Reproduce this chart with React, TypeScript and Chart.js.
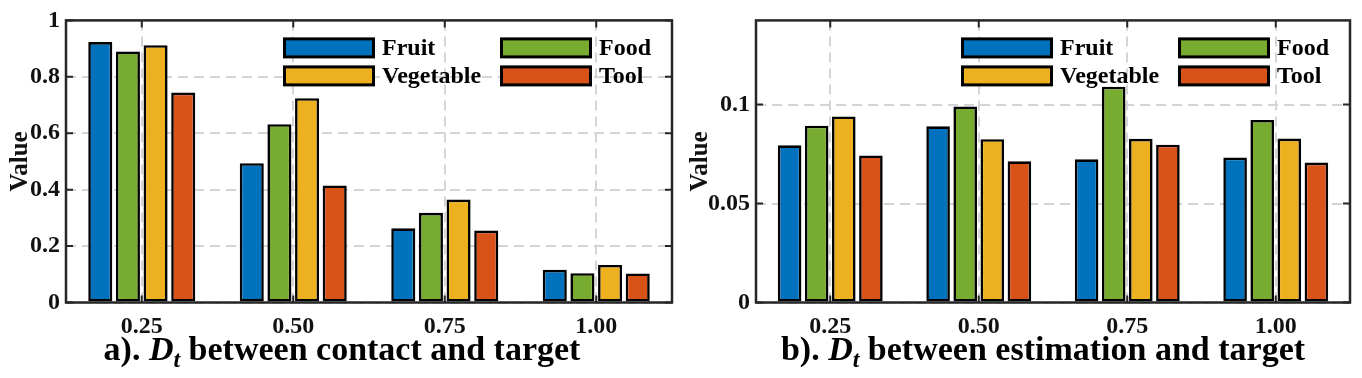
import React, { useEffect, useRef } from "react";
import { Chart, registerables } from "chart.js";

Chart.register(...registerables);

const categories = ["0.25", "0.50", "0.75", "1.00"];
const seriesNames = ["Fruit", "Food", "Vegetable", "Tool"];
const seriesColors = ["#0072BD", "#77AC30", "#EDB120", "#D95319"];

// a) D_t between contact and target
const fruitA = [0.923, 0.494, 0.263, 0.116];
const foodA = [0.89, 0.632, 0.318, 0.104];
const vegetableA = [0.912, 0.724, 0.365, 0.133];
const toolA = [0.744, 0.415, 0.255, 0.103];
const yTicksA = [0, 0.2, 0.4, 0.6, 0.8, 1];
const yMaxA = 1;

// b) D_t between estimation and target
const fruitB = [0.0794, 0.089, 0.0723, 0.0732];
const foodB = [0.0893, 0.099, 0.109, 0.0922];
const vegetableB = [0.094, 0.0825, 0.0827, 0.0828];
const toolB = [0.0743, 0.0713, 0.0797, 0.0707];
const yTicksB = [0, 0.05, 0.1];
const yMaxB = 0.1425;

const FONT = "'Liberation Serif', 'Times New Roman', serif";
const W = 681;
const H = 378;

const boxPlugin = {
  id: "matlabBox",
  beforeDatasetsDraw(chart: any) {
    const { ctx, chartArea } = chart;
    const x = chart.scales.x;
    const y = chart.scales.y;
    ctx.save();
    ctx.strokeStyle = "#262626";
    ctx.lineWidth = 2;
    const tl = 7;
    y.ticks.forEach((t: any) => {
      const py = y.getPixelForValue(t.value);
      ctx.beginPath();
      ctx.moveTo(chartArea.left, py);
      ctx.lineTo(chartArea.left + tl, py);
      ctx.moveTo(chartArea.right, py);
      ctx.lineTo(chartArea.right - tl, py);
      ctx.stroke();
    });
    x.ticks.forEach((_t: any, i: number) => {
      const px = x.getPixelForTick(i);
      ctx.beginPath();
      ctx.moveTo(px, chartArea.top);
      ctx.lineTo(px, chartArea.top + tl);
      ctx.moveTo(px, chartArea.bottom);
      ctx.lineTo(px, chartArea.bottom - tl);
      ctx.stroke();
    });
    ctx.restore();
  },
  afterDatasetsDraw(chart: any) {
    const { ctx, chartArea } = chart;
    ctx.save();
    ctx.strokeStyle = "#262626";
    ctx.lineWidth = 2.5;
    ctx.strokeRect(
      chartArea.left,
      chartArea.top,
      chartArea.right - chartArea.left,
      chartArea.bottom - chartArea.top
    );
    // legend inside plot area (transparent background)
    const x0 = chartArea.right - 389;
    const y0 = chartArea.top + 17;
    const bw = 92;
    const bh = 21;
    const rowPitch = 28;
    const colPitch = 217;
    ctx.font = `bold 24px ${FONT}`;
    ctx.textBaseline = "middle";
    ctx.textAlign = "left";
    chart.data.datasets.forEach((ds: any, i: number) => {
      const col = i % 2;
      const row = Math.floor(i / 2);
      const bx = x0 + col * colPitch;
      const by = y0 + row * rowPitch;
      ctx.fillStyle = ds.backgroundColor;
      ctx.fillRect(bx + 1.5, by + 1.5, bw - 3, bh - 3);
      ctx.strokeStyle = "#000";
      ctx.lineWidth = 3;
      ctx.strokeRect(bx + 1.5, by + 1.5, bw - 3, bh - 3);
      ctx.fillStyle = "#000";
      ctx.fillText(ds.label, bx + bw + 7, by + bh / 2 + 1);
    });
    ctx.restore();
  },
};

type PanelProps = {
  series: number[][];
  yTicks: number[];
  yMax: number;
  plotLeft: number;
  plotRight: number;
  titlePad: number;
};

function Panel({ series, yTicks, yMax, plotLeft, plotRight, titlePad }: PanelProps) {
  const ref = useRef<HTMLCanvasElement | null>(null);
  useEffect(() => {
    if (!ref.current) return;
    const chart = new Chart(ref.current, {
      type: "bar",
      data: {
        labels: categories,
        datasets: series.map((vals, i) => ({
          label: seriesNames[i],
          data: vals,
          backgroundColor: seriesColors[i],
          borderColor: "#000",
          borderWidth: 2.6,
          borderSkipped: false,
          categoryPercentage: 0.73,
          barPercentage: 0.87,
        })),
      },
      options: {
        animation: false,
        responsive: false,
        layout: { padding: { left: 0, right: W - plotRight, top: 17, bottom: 0 } },
        plugins: { legend: { display: false }, tooltip: { enabled: false } },
        scales: {
          x: {
            offset: true,
            grid: { offset: false, color: "#d4d4d4", lineWidth: 2, drawTicks: false },
            border: { display: false, dash: [10, 6] },
            ticks: {
              font: { family: FONT, size: 24, weight: "bold" },
              color: "#111",
              padding: 10,
              maxRotation: 0,
              autoSkip: false,
            },
            afterFit: (s: any) => {
              s.height = H - 302.5;
            },
          },
          y: {
            min: 0,
            max: yMax,
            afterBuildTicks: (s: any) => {
              s.ticks = yTicks.map((v) => ({ value: v }));
            },
            grid: { color: "#d4d4d4", lineWidth: 2, drawTicks: false },
            border: { display: false, dash: [10, 6] },
            ticks: {
              font: { family: FONT, size: 24, weight: "bold" },
              color: "#111",
              padding: 6,
              callback: (v: any) => String(v),
            },
            title: {
              display: true,
              text: "Value",
              font: { family: FONT, size: 25, weight: "bold" },
              color: "#111",
              padding: { top: titlePad, bottom: 0 },
            },
            afterFit: (s: any) => {
              s.width = plotLeft;
            },
          },
        },
      },
      plugins: [boxPlugin],
    });
    return () => chart.destroy();
  }, []);
  return <canvas ref={ref} width={W} height={H} style={{ display: "block", width: W, height: H }} />;
}

const captionStyle: React.CSSProperties = {
  position: "absolute",
  top: 332,
  transform: "translateX(-50%)",
  whiteSpace: "nowrap",
  fontFamily: FONT,
  fontWeight: "bold",
  fontSize: 34,
  lineHeight: "34px",
  color: "#000",
};

const subStyle: React.CSSProperties = {
  fontSize: "0.7em",
  verticalAlign: "-0.28em",
  lineHeight: 0,
};

export default function App() {
  return (
    <div
      style={{
        position: "fixed",
        left: 0,
        top: 0,
        width: 1362,
        height: 378,
        background: "#fff",
        overflow: "hidden",
      }}
    >
      <div style={{ position: "absolute", left: 0, top: 0 }}>
        <Panel series={[fruitA, foodA, vegetableA, toolA]} yTicks={yTicksA} yMax={yMaxA} plotLeft={66} plotRight={672} titlePad={6} />
      </div>
      <div style={{ position: "absolute", left: 681, top: 0 }}>
        <Panel series={[fruitB, foodB, vegetableB, toolB]} yTicks={yTicksB} yMax={yMaxB} plotLeft={75} plotRight={669} titlePad={5} />
      </div>
      <div style={{ ...captionStyle, left: 342 }}>
        a). <i>D<sub style={subStyle}>t</sub></i> between contact and target
      </div>
      <div style={{ ...captionStyle, left: 1043 }}>
        b). <i>D<sub style={subStyle}>t</sub></i> between estimation and target
      </div>
    </div>
  );
}
